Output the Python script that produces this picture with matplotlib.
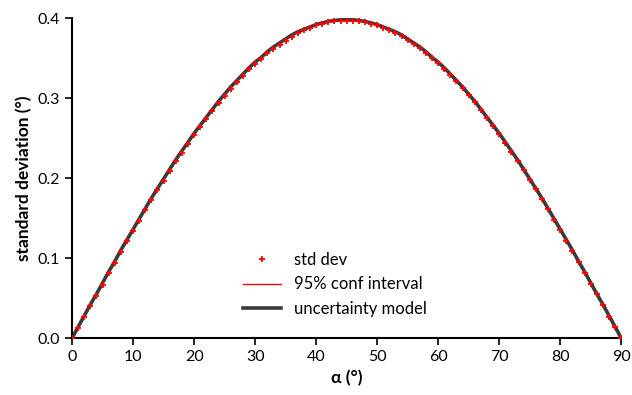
import matplotlib.pyplot as plt

plt.rcParams['font.family'] = ['Lato', 'DejaVu Sans']

alpha = list(range(91))

# std dev estimates, one per degree
std_dev = [0.000, 0.013, 0.026, 0.040, 0.053, 0.067, 0.081, 0.094, 0.108, 0.121,
           0.134, 0.147, 0.160, 0.173, 0.185, 0.197, 0.209, 0.221, 0.232, 0.243,
           0.254, 0.264, 0.274, 0.284, 0.294, 0.303, 0.312, 0.320, 0.328, 0.336,
           0.343, 0.349, 0.356, 0.362, 0.367, 0.372, 0.377, 0.381, 0.385, 0.388,
           0.391, 0.393, 0.395, 0.396, 0.397, 0.397,
           0.397, 0.396, 0.395, 0.393, 0.391, 0.388, 0.385, 0.382, 0.378, 0.373,
           0.368, 0.363, 0.357, 0.350, 0.344,
           0.337, 0.329, 0.321, 0.313, 0.304, 0.295, 0.285, 0.275, 0.265, 0.255,
           0.244, 0.233, 0.222, 0.210, 0.198, 0.186, 0.174, 0.161, 0.148, 0.135,
           0.122, 0.109, 0.095, 0.082, 0.068, 0.055, 0.041, 0.027, 0.014, 0.000]

# uncertainty model
model = [0.000, 0.014, 0.028, 0.042, 0.055, 0.069, 0.083, 0.096, 0.110, 0.123,
         0.136, 0.149, 0.162, 0.175, 0.187, 0.199, 0.211, 0.223, 0.234, 0.245,
         0.256, 0.266, 0.276, 0.286, 0.296, 0.305, 0.314, 0.322, 0.330, 0.338,
         0.345, 0.351, 0.358, 0.364, 0.369, 0.374, 0.379, 0.383, 0.386, 0.389,
         0.392, 0.394, 0.396, 0.397, 0.398, 0.398,
         0.398, 0.397, 0.396, 0.394, 0.392, 0.389, 0.386, 0.383, 0.379, 0.374,
         0.369, 0.364, 0.358, 0.351, 0.345, 0.338, 0.330, 0.322, 0.314, 0.305,
         0.296, 0.286, 0.276, 0.266, 0.256, 0.245, 0.234, 0.223, 0.211, 0.199,
         0.187, 0.175, 0.162, 0.149, 0.136, 0.123, 0.110, 0.096, 0.083, 0.069,
         0.055, 0.042, 0.028, 0.014, 0.000]

fig = plt.figure(figsize=(6.32, 3.95), dpi=100)
ax = fig.add_axes([0.114, 0.144, 0.869, 0.810])

ax.plot(alpha, std_dev, '+', color='red', ms=5, mew=1.3, label='std dev', zorder=3)
ax.plot(alpha, model, color='red', lw=1, label='95% conf interval', zorder=1)
ax.plot(alpha, model, color='#3a3a3a', lw=2.6, label='uncertainty model', zorder=2)

ax.set_xlim(0, 90)
ax.set_ylim(0, 0.4)
ax.set_xticks(range(0, 91, 10))
ax.set_yticks([0.0, 0.1, 0.2, 0.3, 0.4])
ax.set_yticklabels(['0.0', '0.1', '0.2', '0.3', '0.4'])
ax.spines['top'].set_visible(False)
ax.spines['right'].set_visible(False)
for s in ('left', 'bottom'):
    ax.spines[s].set_linewidth(1.5)
ax.tick_params(axis='both', direction='out', length=5, width=1.2, labelsize=11.5)

ax.set_xlabel('α (°)', fontsize=12.5, fontweight='bold')
ax.set_ylabel('standard deviation (°)', fontsize=12.5, fontweight='bold')

ax.legend(loc='upper left', bbox_to_anchor=(0.36, 0.40), bbox_transform=fig.transFigure,
          frameon=False, fontsize=12, labelspacing=0.5, handlelength=2.3)

fig.savefig('out.png', dpi=100)
